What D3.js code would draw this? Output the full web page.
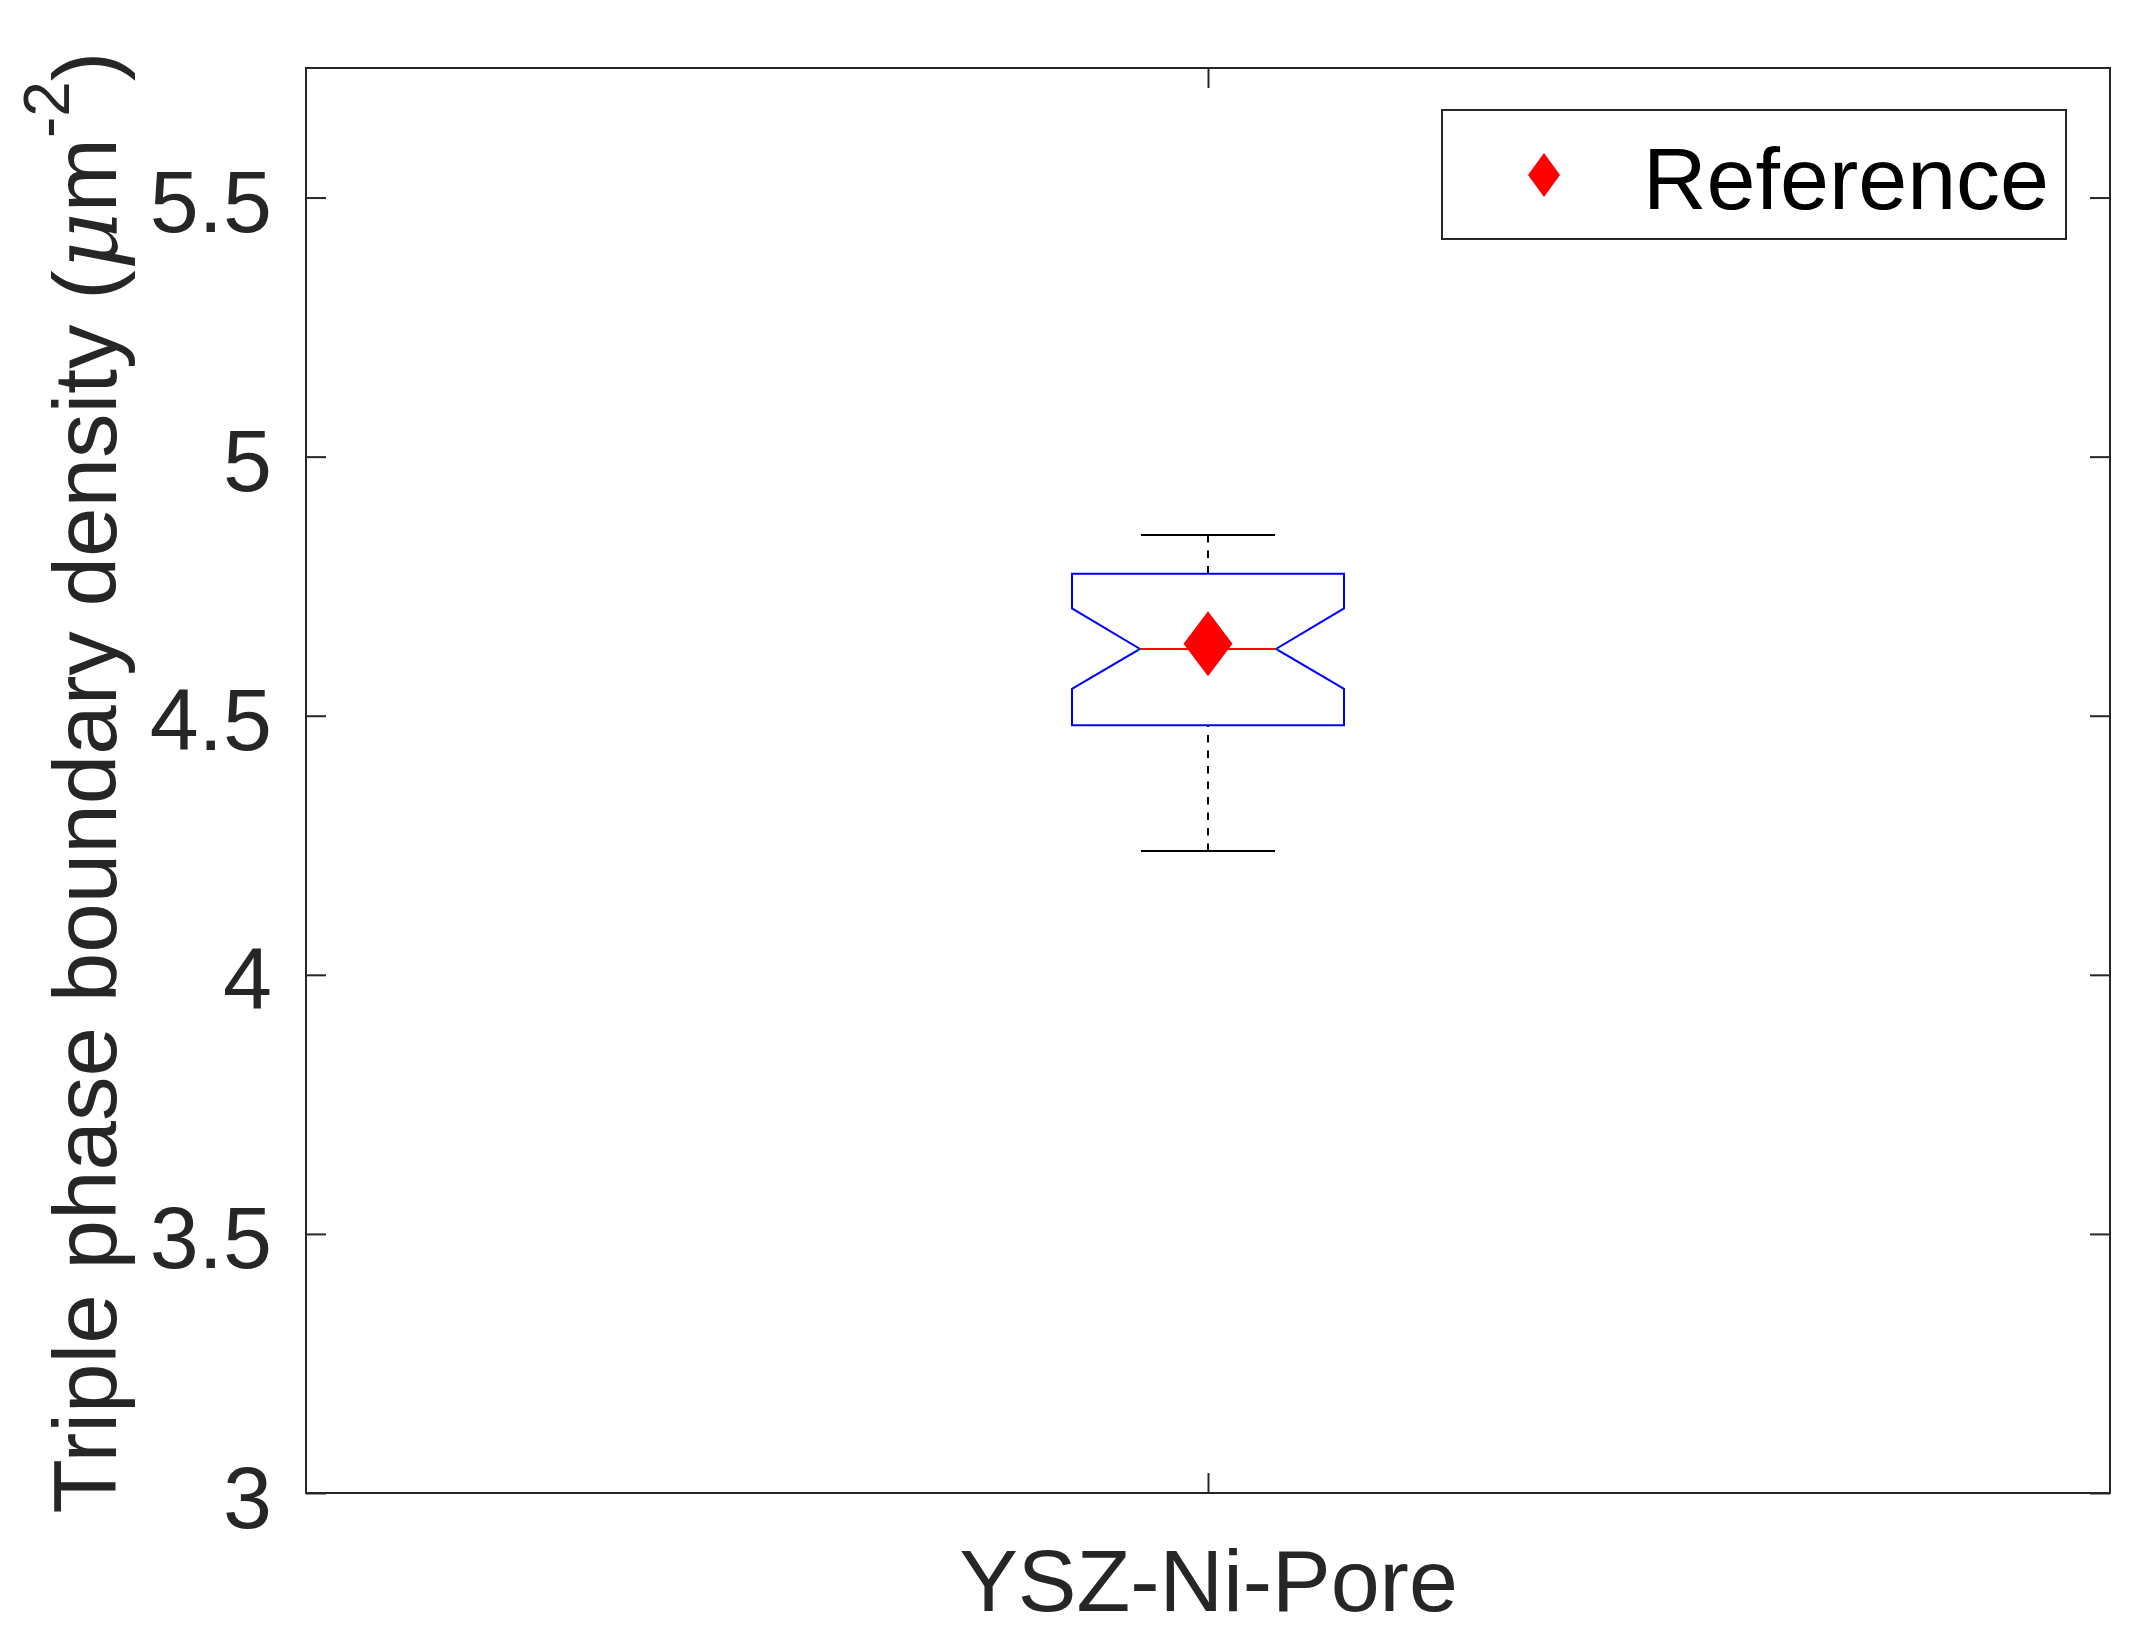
<!DOCTYPE html>
<html lang="en">
<head>
<meta charset="UTF-8">
<title>Triple phase boundary density</title>
<script src="https://d3js.org/d3.v7.min.js"></script>
<style>
  html, body { margin: 0; padding: 0; background: #fff; }
  svg text { font-family: "Liberation Sans", Arial, Helvetica, sans-serif; }
</style>
</head>
<body>
<svg id="chart" width="2150" height="1649"></svg>
<script>
// data
var categories = ["YSZ-Ni-Pore"];
// [lower whisker, q1, notch low, median, notch high, q3, upper whisker]
var boxStats = [[4.239, 4.4815, 4.552, 4.629, 4.707, 4.774, 4.849]];
var referenceValues = [4.639];
var yTicks = [3, 3.5, 4, 4.5, 5, 5.5];
var yDomain = [3, 5.75];
var legendLabels = ["Reference"];

var svg = d3.select("#chart");
// plot area edges (note: "top" is reserved on window, so use a prefix)
var axL = 306, axR = 2110, axT = 68, axB = 1493;
var ink = "#262626";

var y = d3.scaleLinear().domain(yDomain).range([axB, axT]);
var x = d3.scalePoint().domain(categories).range([axL, axR]).padding(0.5);

// axes frame
svg.append("rect")
  .attr("x", axL).attr("y", axT)
  .attr("width", axR - axL).attr("height", axB - axT)
  .attr("fill", "none").attr("stroke", ink).attr("stroke-width", 2);

// y ticks (inward, both sides)
var tickLen = 20;
var gy = svg.append("g").attr("transform", "translate(" + axL + ",0)")
  .call(d3.axisLeft(y).tickValues(yTicks).tickSize(-tickLen).tickFormat(d3.format("~g")).tickPadding(34));
gy.select(".domain").remove();
gy.selectAll(".tick line").attr("stroke", ink).attr("stroke-width", 2);
gy.selectAll(".tick text")
  .attr("fill", ink).attr("font-size", 88)
  .attr("dy", null).attr("y", 34)
  .style("font-family", '"Liberation Sans", Arial, sans-serif');

var gyR = svg.append("g").attr("transform", "translate(" + axR + ",0)")
  .call(d3.axisRight(y).tickValues(yTicks).tickSize(-tickLen).tickFormat(""));
gyR.select(".domain").remove();
gyR.selectAll(".tick line").attr("stroke", ink).attr("stroke-width", 2);

// x ticks (bottom with label, top without)
var gx = svg.append("g").attr("transform", "translate(0," + axB + ")")
  .call(d3.axisBottom(x).tickSize(-tickLen).tickPadding(0));
gx.select(".domain").remove();
gx.selectAll(".tick line").attr("stroke", ink).attr("stroke-width", 2);
gx.selectAll(".tick text")
  .attr("fill", ink).attr("font-size", 88)
  .attr("dy", null).attr("y", 118)
  .style("font-family", '"Liberation Sans", Arial, sans-serif');

var gxT = svg.append("g").attr("transform", "translate(0," + axT + ")")
  .call(d3.axisTop(x).tickSize(-tickLen).tickFormat(""));
gxT.select(".domain").remove();
gxT.selectAll(".tick line").attr("stroke", ink).attr("stroke-width", 2);

// y label
var ylab = svg.append("text")
  .attr("transform", "translate(116," + ((axT + axB) / 2 + 2) + ") rotate(-90)")
  .attr("text-anchor", "middle")
  .attr("fill", ink).attr("font-size", 89);
ylab.append("tspan").text("Triple phase boundary density (");
ylab.append("tspan").attr("font-style", "italic").style("font-family", '"DejaVu Serif", serif').text("\u03bc");
ylab.append("tspan").text("m");
ylab.append("tspan").attr("font-size", 64).attr("dy", -47).text("-2");
ylab.append("tspan").attr("dy", 47).text(")");

// notched box plot
var boxHalf = 136, notchHalf = 68, capHalf = 67;
var boxes = svg.selectAll("g.box").data(boxStats).enter().append("g").attr("class", "box");

boxes.each(function (d, i) {
  var g = d3.select(this);
  var cx = x(categories[i]);
  // whiskers
  g.append("line").attr("x1", cx).attr("x2", cx).attr("y1", y(d[6])).attr("y2", y(d[5]))
    .attr("stroke", "#000").attr("stroke-width", 2).attr("stroke-dasharray", "7.5,8");
  g.append("line").attr("x1", cx).attr("x2", cx).attr("y1", y(d[0])).attr("y2", y(d[1]))
    .attr("stroke", "#000").attr("stroke-width", 2).attr("stroke-dasharray", "7.5,8");
  g.append("line").attr("x1", cx - capHalf).attr("x2", cx + capHalf).attr("y1", y(d[6])).attr("y2", y(d[6]))
    .attr("stroke", "#000").attr("stroke-width", 2);
  g.append("line").attr("x1", cx - capHalf).attr("x2", cx + capHalf).attr("y1", y(d[0])).attr("y2", y(d[0]))
    .attr("stroke", "#000").attr("stroke-width", 2);
  // box outline with notch
  var pts = [
    [cx - boxHalf, y(d[5])], [cx + boxHalf, y(d[5])], [cx + boxHalf, y(d[4])],
    [cx + notchHalf, y(d[3])], [cx + boxHalf, y(d[2])], [cx + boxHalf, y(d[1])],
    [cx - boxHalf, y(d[1])], [cx - boxHalf, y(d[2])], [cx - notchHalf, y(d[3])],
    [cx - boxHalf, y(d[4])]
  ];
  g.append("path").attr("d", d3.line()(pts) + "Z")
    .attr("fill", "none").attr("stroke", "#0000ff").attr("stroke-width", 2);
  // median
  g.append("line").attr("x1", cx - notchHalf).attr("x2", cx + notchHalf).attr("y1", y(d[3])).attr("y2", y(d[3]))
    .attr("stroke", "#ff0000").attr("stroke-width", 2);
});

// reference markers
function diamond(cx, cy, hw, hh) {
  return "M" + cx + "," + (cy - hh) + "L" + (cx + hw) + "," + cy + "L" + cx + "," + (cy + hh) + "L" + (cx - hw) + "," + cy + "Z";
}
svg.selectAll("path.ref").data(referenceValues).enter().append("path")
  .attr("class", "ref")
  .attr("d", function (d, i) { return diamond(x(categories[i]), y(d), 24.5, 32.5); })
  .attr("fill", "#ff0000");

// legend
var legend = svg.append("g");
legend.append("rect").attr("x", 1442).attr("y", 110).attr("width", 624).attr("height", 129)
  .attr("fill", "#fff").attr("stroke", ink).attr("stroke-width", 2);
legend.append("path").attr("d", diamond(1544, 175, 16, 22)).attr("fill", "#ff0000");
legend.append("text").attr("x", 1643).attr("y", 209).attr("font-size", 88).attr("fill", "#000")
  .text(legendLabels[0]);
</script>
</body>
</html>
